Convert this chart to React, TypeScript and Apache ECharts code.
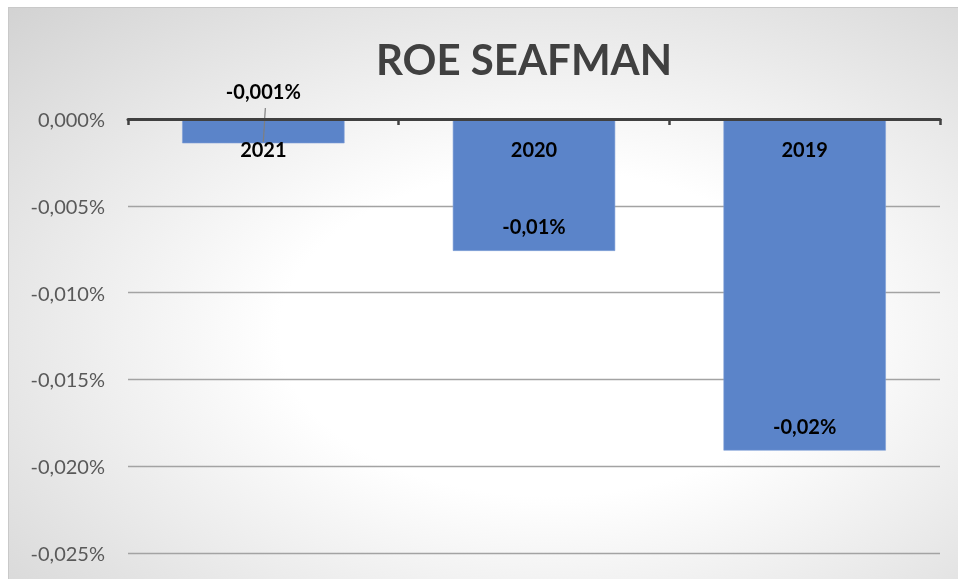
import React, { useEffect, useRef } from "react";
import * as echarts from "echarts";

const titleText = "ROE SEAFMAN";
const categories = ["2021", "2020", "2019"];
const roeValues = [-0.0014, -0.0076, -0.0191];
const labelDecimals = [3, 2, 2];
const yMin = -0.025;
const yMax = 0;
const yInterval = 0.005;

const FONT = "Lato, 'Open Sans', sans-serif";

export default function App() {
  const ref = useRef<HTMLDivElement>(null);

  useEffect(() => {
    if (!ref.current) return;
    const chart = echarts.init(ref.current, undefined, { renderer: "svg" });

    const fmtPct = (v: number, d: number) => v.toFixed(d).replace(".", ",") + "%";

    chart.setOption({
      animation: false,
      backgroundColor: new echarts.graphic.RadialGradient(0.57, 0.57, 0.95, [
        { offset: 0, color: "#ffffff" },
        { offset: 0.3, color: "#ffffff" },
        { offset: 1, color: "#c6c6c6" },
      ]),
      grid: { left: 119, top: 111, right: 18, bottom: 26, containLabel: false },
      xAxis: {
        type: "category",
        data: categories,
        position: "top",
        z: 10,
        axisLine: { show: true, onZero: false, lineStyle: { color: "#404040", width: 3 } },
        axisTick: { show: true, inside: true, length: 6, lineStyle: { color: "#404040", width: 2.5 } },
        axisLabel: {
          inside: true,
          fontFamily: FONT,
          fontWeight: "bold",
          fontSize: 20,
          color: "#000000",
          margin: 20,
        },
      },
      yAxis: {
        type: "value",
        min: yMin,
        max: yMax,
        interval: yInterval,
        axisLine: { show: false },
        axisTick: { show: false },
        splitLine: { lineStyle: { color: "#a3a3a3", width: 1.3 } },
        axisLabel: {
          fontFamily: FONT,
          fontSize: 20,
          color: "#595959",
          margin: 23,
          formatter: (v: number) => fmtPct(Math.abs(v) < 1e-12 ? 0 : v, 3),
        },
      },
      series: [
        {
          type: "bar",
          barCategoryGap: "40%",
          itemStyle: { color: "#5b84c9", borderColor: "#7f9fd6", borderWidth: 0.6 },
          data: roeValues.map((v, i) => ({
            value: v,
            label:
              i === 0
                ? { show: true, position: "top", distance: 18 }
                : { show: true, position: "insideBottom", distance: 15 },
          })),
          label: {
            fontFamily: FONT,
            fontWeight: "bold",
            fontSize: 20,
            color: "#000000",
            formatter: (p: any) => fmtPct(p.value, labelDecimals[p.dataIndex]),
          },
        },
      ],
    });

    const cx = chart.convertToPixel({ xAxisIndex: 0 }, categories[0]) as number;
    const y0 = chart.convertToPixel({ yAxisIndex: 0 }, 0) as number;

    chart.setOption({
      graphic: [
        {
          type: "text",
          x: 515,
          y: 51,
          z: 20,
          style: {
            text: titleText,
            fontFamily: FONT,
            fontWeight: "bold",
            fontSize: 42,
            fill: "#404040",
            textAlign: "center",
            textVerticalAlign: "middle",
          },
        },
        {
          type: "line",
          z: 5,
          shape: { x1: cx + 2, y1: y0 - 11, x2: cx, y2: y0 + 23 },
          style: { stroke: "#7f7f7f", lineWidth: 1.2 },
        },
      ],
    });

    return () => chart.dispose();
  }, []);

  return (
    <div
      style={{
        position: "fixed",
        left: 8,
        top: 7,
        width: 951,
        height: 573,
        boxSizing: "border-box",
        border: "1px solid #c9c9c9",
      }}
    >
      <div ref={ref} style={{ width: 949, height: 571 }} />
    </div>
  );
}
